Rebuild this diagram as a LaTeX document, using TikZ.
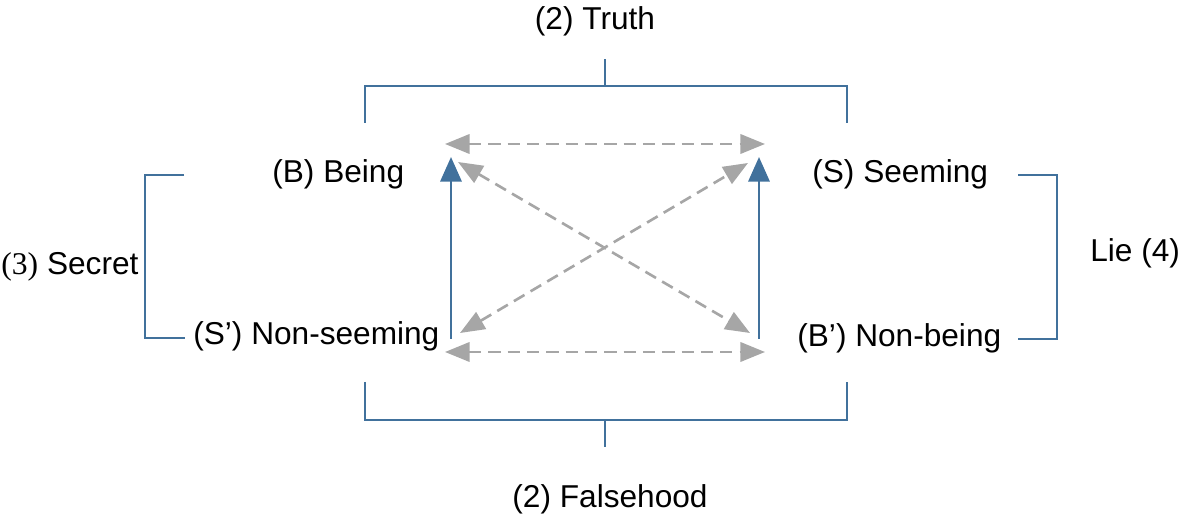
\documentclass[tikz,border=0pt]{standalone}
\usepackage{fontspec}
\setmainfont{Liberation Sans}
\newfontfamily\numserif{Liberation Serif}
\usetikzlibrary{arrows.meta,positioning}
\definecolor{barblue}{RGB}{65,113,156}
\definecolor{linkgray}{RGB}{166,166,166}

\begin{document}
\begin{tikzpicture}[x=0.02cm, y=-0.02cm,
    term/.style={inner sep=0pt, font=\fontsize{18}{22}\selectfont},
    bracket/.style={draw=barblue, line width=1.5pt},
    imply/.style={-{Triangle[length=14pt,width=12pt]}, line width=1.7pt, barblue},
    link/.style={{Triangle[length=14pt,width=11pt]}-{Triangle[length=14pt,width=11pt]},
        line width=1.5pt, linkgray, dash pattern=on 7pt off 4pt}
]
\useasboundingbox (0,0) rectangle (1181,519);

% terms
\node[term, anchor=base west] (being) at (272,183) {(B) Being};
\node[term, anchor=base west] (seeming) at (812,183) {(S) Seeming};
\node[term, anchor=base west] (nonseem) at (193,345) {(S’) Non-seeming};
\node[term, anchor=base west] (nonbeing) at (797,347) {(B’) Non-being};

% bracket labels
\node[term, anchor=base] (truth) at (595,30) {(2) Truth};
\node[term, anchor=base] (falsehood) at (610,508) {(2) Falsehood};
\node[term, anchor=base west] (secret) at (1,275) {{\numserif(3)} Secret};
\node[term, anchor=base west] (lie) at (1090,262) {Lie (4)};

% arrow ends
\coordinate (lb) at (451,339);
\coordinate (lt) at (451,157);
\coordinate (rb) at (759,339);
\coordinate (rt) at (759,157);
\coordinate (tl) at (445,144);
\coordinate (tr) at (765,144);
\coordinate (bl) at (445,352);
\coordinate (br) at (765,352);
\coordinate (dtl) at (458,162);
\coordinate (dbr) at (750,333);
\coordinate (dbl) at (460,333);
\coordinate (dtr) at (748,163);

% implications
\draw[imply] (lb) -- (lt);
\draw[imply] (rb) -- (rt);

% oppositions
\draw[link] (tl) -- (tr);
\draw[link] (bl) -- (br);
\draw[link] (dtl) -- (dbr);
\draw[link] (dbl) -- (dtr);

% brackets
\draw[bracket] (365,123) |- (847,86) -- (847,123);
\draw[bracket] (605,86) -- (605,59);
\draw[bracket] (365,382) |- (847,420) -- (847,382);
\draw[bracket] (605,420) -- (605,447);
\draw[bracket] (184,175) -| (145,338) -- (185,338);
\draw[bracket] (1018,175) -| (1057,339) -- (1018,339);

\end{tikzpicture}
\end{document}
